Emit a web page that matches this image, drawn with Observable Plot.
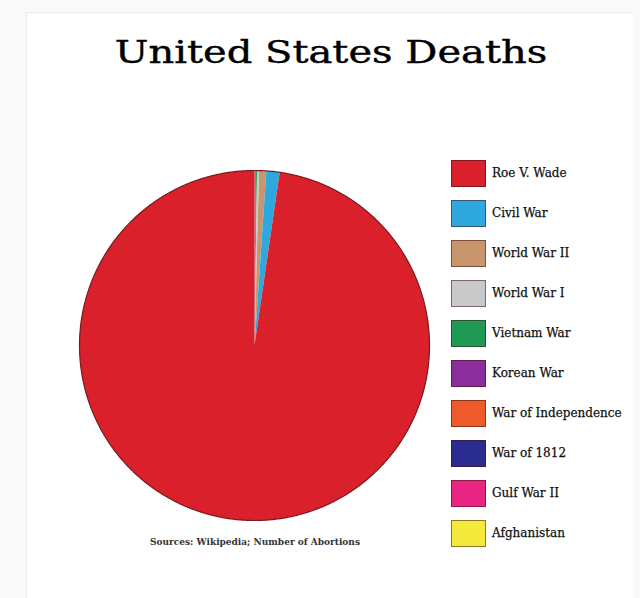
<!DOCTYPE html>
<html><head><meta charset="utf-8">
<script src="https://cdn.jsdelivr.net/npm/d3@7"></script>
<script src="https://cdn.jsdelivr.net/npm/@observablehq/plot@0.6"></script>
<style>
html,body{margin:0;padding:0;background:#f9f9f9;width:640px;height:598px;overflow:hidden;position:relative;}
#card{position:absolute;left:26px;top:12px;width:606px;height:600px;background:#fff;border-left:1px solid #ececec;border-top:1px solid #ececec;}
#title{position:absolute;left:0;width:662px;top:34px;text-align:center;font-family:"DejaVu Serif",serif;font-size:31px;color:#000;white-space:nowrap;transform:scaleX(1.29);transform-origin:331px 0;-webkit-text-stroke:0.4px #000;}
#chart{position:absolute;left:74px;top:165px;}
#legend{position:absolute;left:0;top:0;}
.sw{position:absolute;left:451px;width:35px;height:27px;box-sizing:border-box;border:1px solid rgba(60,20,20,0.55);}
.lb{position:absolute;left:492px;font-family:"DejaVu Serif",serif;font-size:12px;color:#111;white-space:nowrap;line-height:16px;-webkit-text-stroke:0.25px #111;}
#caption{position:absolute;left:55px;width:400px;top:537px;text-align:center;font-family:"DejaVu Serif",serif;font-size:9px;font-weight:bold;color:#333;white-space:nowrap;}
</style></head><body>
<div id="card"></div>
<div id="title">United States Deaths</div>
<div id="chart"></div>
<div id="legend"></div>
<div id="caption">Sources: Wikipedia; Number of Abortions</div>
<script>
const categories = ["Roe V. Wade","Civil War","World War II","World War I","Vietnam War","Korean War","War of Independence","War of 1812","Gulf War II","Afghanistan"];
const deaths = [60000000, 750000, 405000, 116500, 58000, 36500, 25000, 15000, 4500, 2400];
const colors = ["#d9202b","#2fa8df","#c9956c","#c9c9c9","#1f9a52","#8b2d9c","#ef5a2b","#2b2c8f","#ea2482","#f3ea3b"];

// pie drawn clockwise from 12 o'clock in reverse legend order
const rows = categories.map((label, i) => ({label, value: deaths[i]})).reverse();
const arcs = d3.pie().sort(null).value(d => d.value)(rows);
const R = 175 / 180;
const pts = [];
for (const a of arcs) {
  const label = a.data.label;
  pts.push({label, x: 0, y: 0});
  const n = Math.max(2, Math.ceil((a.endAngle - a.startAngle) / (Math.PI / 720)));
  for (let k = 0; k <= n; k++) {
    const t = a.startAngle + (a.endAngle - a.startAngle) * k / n;
    pts.push({label, x: R * Math.sin(t), y: R * Math.cos(t)});
  }
  pts.push({label, x: 0, y: 0});
}
const outline = d3.range(0, 721).map(k => ({x: R * Math.sin(k * Math.PI / 360), y: R * Math.cos(k * Math.PI / 360)}));

const chart = Plot.plot({
  width: 360, height: 360,
  margin: 0,
  x: {domain: [-1, 1], axis: null},
  y: {domain: [-1, 1], axis: null},
  color: {domain: categories, range: colors},
  marks: [
    Plot.line(pts, {x: "x", y: "y", z: "label", fill: "label", stroke: "none"}),
    Plot.line(outline, {x: "x", y: "y", stroke: "#7a1b1f", strokeWidth: 1.2})
  ]
});
document.getElementById("chart").appendChild(chart);

const color = chart.scale("color");
const legend = document.getElementById("legend");
categories.forEach((c, i) => {
  const cy = 173 + 40 * i;
  const sw = document.createElement("div");
  sw.className = "sw";
  sw.style.top = (cy - 13.5) + "px";
  sw.style.background = color.apply(c);
  legend.appendChild(sw);
  const lb = document.createElement("div");
  lb.className = "lb";
  lb.style.top = (cy - 8) + "px";
  lb.textContent = c;
  legend.appendChild(lb);
});
</script>
</body></html>
